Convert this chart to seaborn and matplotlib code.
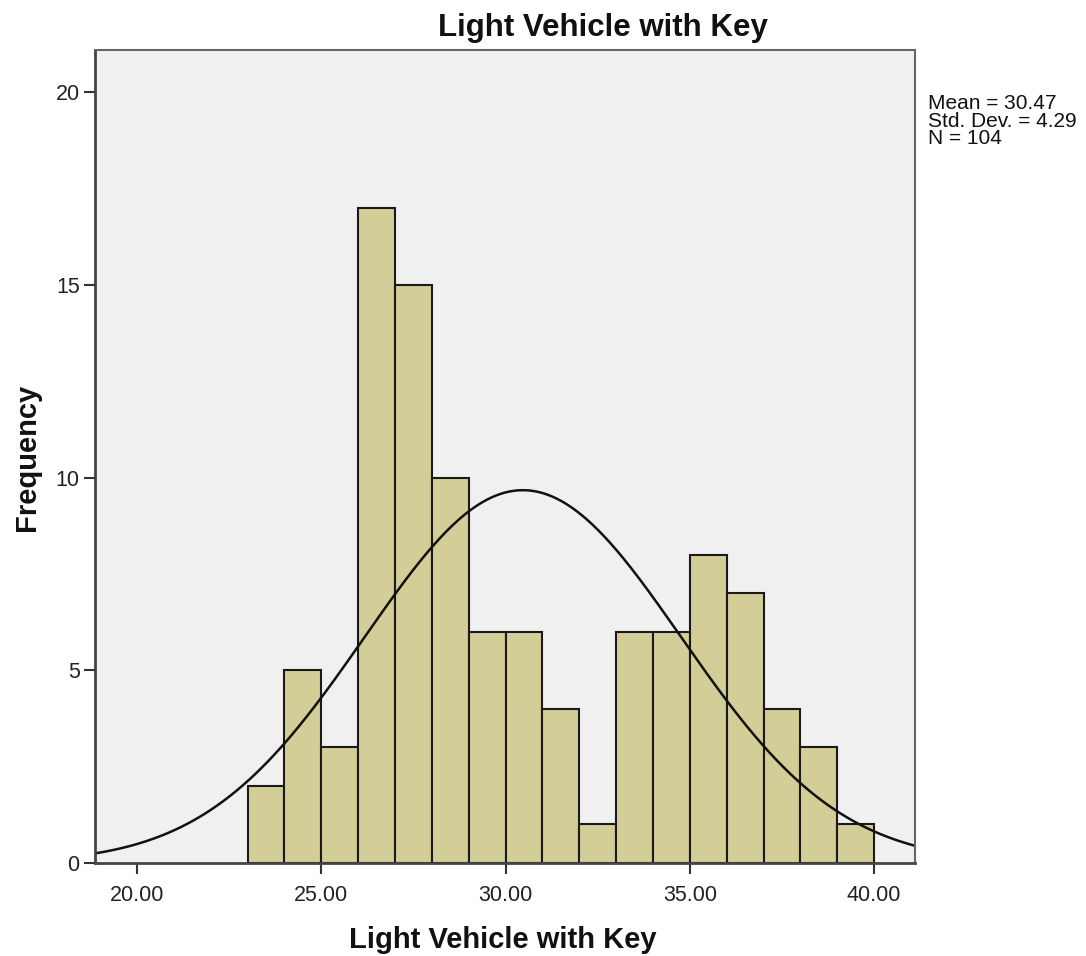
import numpy as np
import pandas as pd
import matplotlib
matplotlib.use("Agg")
import matplotlib.pyplot as plt
import seaborn as sns

# Data
bin_edges = [23, 24, 25, 26, 27, 28, 29, 30, 31, 32, 33, 34, 35, 36, 37, 38, 39, 40]
counts = [2, 5, 3, 17, 15, 10, 6, 6, 4, 1, 6, 6, 8, 7, 4, 3, 1]
mean_val = 30.47
std_val = 4.29
n_val = 104
x_ticks = [20, 25, 30, 35, 40]
x_tick_labels = ["20.00", "25.00", "30.00", "35.00", "40.00"]
y_ticks = [0, 5, 10, 15, 20]
title = "Light Vehicle with Key"
x_label = "Light Vehicle with Key"
y_label = "Frequency"

sns.set_theme(style="white")
plt.rcParams['font.family'] = ['Liberation Sans', 'DejaVu Sans']

W, H = 1086, 956
fig = plt.figure(figsize=(W/100, H/100), dpi=100)
ax = fig.add_axes([95/W, 1-863/H, (915-95)/W, (863-50)/H])
ax.set_facecolor("#F0F0F0")

centers = [(bin_edges[i] + bin_edges[i+1]) / 2 for i in range(len(counts))]
df = pd.DataFrame({"x": centers, "w": counts})
sns.histplot(data=df, x="x", weights="w", bins=bin_edges, ax=ax,
             color="#D3CE97", edgecolor="#1a1a1a", linewidth=1.5, alpha=1)

xs = np.linspace(18.86, 41.11, 400)
binw = bin_edges[1] - bin_edges[0]
ys = n_val * binw * np.exp(-0.5 * ((xs - mean_val) / std_val) ** 2) / (std_val * np.sqrt(2 * np.pi))
sns.lineplot(x=xs, y=ys, ax=ax, color="#111111", linewidth=1.8)

ax.set_xlim(18.86, 41.11)
ax.set_ylim(0, 21.09)
ax.set_xticks(x_ticks)
ax.set_xticklabels(x_tick_labels)
ax.set_yticks(y_ticks)
ax.tick_params(axis="both", direction="out", length=8, width=1.5, color="#333333",
               labelsize=15.5, labelcolor="#222222", bottom=True, left=True)
ax.tick_params(axis="x", pad=8)
ax.tick_params(axis="y", pad=3)
for s in ["left", "bottom"]:
    ax.spines[s].set_color("#444444")
    ax.spines[s].set_linewidth(2)
for s in ["top", "right"]:
    ax.spines[s].set_color("#666666")
    ax.spines[s].set_linewidth(1.5)

ax.set_xlabel("")
ax.set_ylabel("")
fig.text(503/W, 1-940/H, x_label, fontsize=21, fontweight="bold", ha="center", va="center", color="#111111")
fig.text(27/W, 1-457/H, y_label, fontsize=21, fontweight="bold", ha="center", va="center",
         rotation=90, color="#111111")
fig.text(603/W, 1-28/H, title, fontsize=22.5, fontweight="bold", ha="center", va="center", color="#111111")

fig.text(928/W, 1-94/H, f"Mean = {mean_val:.2f}\nStd. Dev. = {std_val:.2f}\nN = {n_val}",
         fontsize=15, va="top", ha="left", color="#111111", linespacing=0.9)

fig.savefig("out.png", dpi=100)
